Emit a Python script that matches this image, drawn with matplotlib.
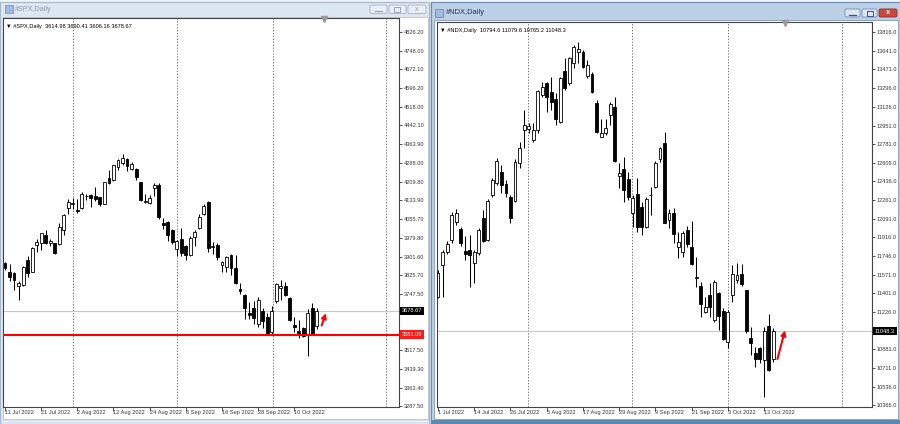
import matplotlib
matplotlib.use("Agg")
import matplotlib.pyplot as plt
from matplotlib.patches import Rectangle, FancyBboxPatch

plt.rcParams['font.family'] = ['Liberation Sans', 'DejaVu Sans']

# ---------------- #SPX,Daily  (11 Jul 2022 .. 17 Oct 2022) ----------------
spx_open = [3876, 3837, 3833, 3783, 3785, 3888, 3840, 3950, 3957, 3990,
            3960, 3957, 3954, 4012, 4101, 4119, 4094, 4101, 4152, 4156,
            4153, 4146, 4119, 4224, 4217, 4272, 4286, 4302, 4261, 4261,
            4208, 4125, 4121, 4183, 4197, 4039, 4046, 4012, 3933, 3975,
            3946, 3909, 3984, 4018, 4077, 4125, 3940, 3948, 3868, 3861,
            3908, 3856, 3770, 3744, 3670, 3689, 3625, 3680, 3652, 3590,
            3718, 3774, 3783, 3730, 3622, 3598, 3608, 3580, 3690, 3614.98]
spx_high = [3881, 3873, 3840, 3800, 3864, 3903, 3940, 3974, 4000, 4012,
            3975, 3960, 4040, 4079, 4140, 4145, 4140, 4168, 4161, 4160,
            4187, 4148, 4211, 4258, 4281, 4302, 4325, 4306, 4293, 4266,
            4210, 4160, 4157, 4203, 4203, 4063, 4050, 4016, 3970, 4018,
            3950, 3988, 4011, 4077, 4119, 4130, 3962, 3959, 3885, 3905,
            3912, 3907, 3792, 3750, 3716, 3718, 3737, 3690, 3671, 3698,
            3795, 3807, 3798, 3735, 3652, 3641, 3612, 3685, 3712, 3690.41]
spx_low = [3847, 3802, 3765, 3722, 3780, 3818, 3838, 3922, 3928, 3955,
           3944, 3911, 3950, 3993, 4079, 4096, 4080, 4100, 4135, 4107,
           4129, 4112, 4117, 4201, 4215, 4257, 4278, 4253, 4258, 4219,
           4130, 4124, 4117, 4150, 4058, 4017, 3965, 3954, 3904, 3906,
           3887, 3906, 3945, 4015, 4075, 3922, 3912, 3888, 3837, 3840,
           3828, 3789, 3750, 3647, 3645, 3623, 3611, 3610, 3584, 3585,
           3712, 3723, 3739, 3636, 3590, 3568, 3573, 3492, 3580, 3606.16]
spx_close = [3856, 3820, 3806, 3793, 3861, 3833, 3936, 3962, 3998, 3960,
             3967, 3918, 4024, 4073, 4128, 4121, 4090, 4160, 4151, 4142,
             4140, 4119, 4208, 4204, 4279, 4300, 4306, 4275, 4283, 4231,
             4135, 4131, 4142, 4197, 4064, 4032, 3991, 3964, 3966, 3916,
             3909, 3977, 4005, 4066, 4110, 3936, 3945, 3902, 3881, 3900,
             3855, 3792, 3762, 3692, 3660, 3648, 3722, 3638, 3586, 3678,
             3791, 3783, 3744, 3640, 3612, 3589, 3577, 3670, 3583, 3678.67]
spx_date_pos = [0, 8, 16, 24, 32, 40, 48, 56, 64]
spx_date_lbl = ["11 Jul 2022", "21 Jul 2022", "2 Aug 2022", "12 Aug 2022", "24 Aug 2022",
                "6 Sep 2022", "16 Sep 2022", "28 Sep 2022", "10 Oct 2022"]
spx_ticks = [4826.20, 4748.00, 4672.10, 4596.20, 4518.00, 4442.10, 4363.90, 4288.00,
             4209.80, 4133.90, 4055.70, 3979.80, 3901.60, 3825.70, 3747.50, 3593.40,
             3517.50, 3439.30, 3363.40, 3287.50]
spx_last = 3678.67
spx_level = 3581.09
spx_header = "#SPX,Daily  3614.98 3690.41 3606.16 3678.67"

# ---------------- #NDX,Daily  (1 Jul 2022 .. 17 Oct 2022) ----------------
ndx_open = [11368, 11661, 11784, 11892, 12062, 11991, 11793, 11800, 11676, 11769,
            12099, 11892, 12308, 12416, 12524, 12407, 12293, 12256, 12607, 12910,
            12916, 12817, 12910, 13233, 13347, 13264, 13193, 12987, 13458, 13341,
            13532, 13634, 13634, 13409, 13424, 13162, 12848, 12879, 13048, 13125,
            12487, 12546, 12453, 12145, 12315, 12194, 12016, 12305, 12385, 12638,
            12792, 12077, 12139, 11824, 11784, 11985, 11831, 11540, 11470, 11223,
            11384, 11152, 11405, 11239, 10952, 11384, 11522, 11578, 11430, 10983,
            10844, 10890, 10782, 11100, 10794.6]
ndx_high = [11615, 11800, 11880, 12154, 12180, 12010, 11930, 11938, 11800, 12000,
            12170, 12270, 12470, 12650, 12590, 12450, 12310, 12640, 12800, 13094,
            12975, 12970, 13280, 13356, 13356, 13403, 13248, 13403, 13572, 13588,
            13696, 13727, 13650, 13557, 13449, 13187, 13008, 13008, 13172, 13218,
            12607, 12657, 12524, 12308, 12463, 12247, 12293, 12385, 12622, 12755,
            12894, 12176, 12185, 11969, 11975, 12022, 12071, 11738, 11507, 11368,
            11491, 11522, 11414, 11260, 11245, 11661, 11676, 11670, 11430, 11090,
            10906, 10906, 11090, 11205, 11079.6]
ndx_low = [11353, 11368, 11760, 11860, 12030, 11840, 11707, 11460, 11491, 11750,
           11870, 11880, 12290, 12400, 12330, 12290, 12050, 12240, 12560, 12740,
           12880, 12800, 12880, 13218, 13080, 13094, 12956, 12971, 13279, 13326,
           13480, 13526, 13480, 13387, 13249, 12879, 12848, 12863, 12956, 12617,
           12370, 12247, 12262, 12016, 11969, 11939, 12000, 12123, 12370, 12617,
           12046, 12006, 11867, 11723, 11738, 11830, 11661, 11460, 11177, 11214,
           11183, 11137, 11060, 10968, 10890, 11322, 11491, 11470, 11029, 10829,
           10721, 10752, 10443, 10684, 10765.2]
ndx_close = [11584, 11784, 11855, 12123, 12145, 11861, 11763, 11753, 11784, 11985,
             11886, 12253, 12447, 12623, 12401, 12324, 12093, 12617, 12740, 12956,
             12946, 12910, 13270, 13310, 13218, 13172, 13008, 13387, 13295, 13572,
             13680, 13656, 13489, 13511, 13264, 12894, 12885, 12925, 13150, 12626,
             12509, 12355, 12293, 12284, 12016, 12016, 12268, 12310, 12607, 12740,
             12053, 12139, 11945, 11877, 11960, 11852, 11667, 11548, 11300, 11269,
             11269, 11507, 11189, 10974, 11229, 11578, 11568, 11482, 11050, 10936,
             10792, 10792, 11050, 10692, 11048.3]
ndx_date_pos = [0, 8, 16, 24, 32, 40, 48, 56, 64, 72]
ndx_date_lbl = ["1 Jul 2022", "14 Jul 2022", "26 Jul 2022", "5 Aug 2022", "17 Aug 2022",
                "29 Aug 2022", "9 Sep 2022", "21 Sep 2022", "3 Oct 2022", "13 Oct 2022"]
ndx_ticks = [13816.0, 13641.0, 13471.0, 13296.0, 13126.0, 12951.0, 12781.0, 12606.0,
             12436.0, 12261.0, 12091.0, 11916.0, 11746.0, 11571.0, 11401.0, 11226.0,
             10881.0, 10711.0, 10536.0, 10366.0]
ndx_last = 11048.3
ndx_header = "#NDX,Daily  10794.6 11079.6 10765.2 11048.3"

W, H = 900, 424
FS = 4.1
fig = plt.figure(figsize=(9, 4.24), dpi=100)


def px_axes(x0, y0, x1, y1, **kw):
    return fig.add_axes([x0 / W, 1 - y1 / H, (x1 - x0) / W, (y1 - y0) / H], **kw)


# window chrome drawn in pixel space (y down)
bg = px_axes(0, 0, W, H)
bg.set_xlim(0, W)
bg.set_ylim(H, 0)
bg.axis('off')
bg.add_patch(Rectangle((0, 0), W, H, fc='#cfdbe9', ec='none'))
bg.add_patch(Rectangle((0, 0), W, 3, fc='#eef1f5', ec='none'))
# left (inactive) window
bg.add_patch(Rectangle((0, 2), 429, 422, fc='#dde7f2', ec='#a8b8cc', lw=0.8))
bg.add_patch(Rectangle((3, 17), 425, 402, fc='white', ec='#b5c3d3', lw=0.6))
bg.add_patch(Rectangle((5, 5), 8, 8, fc='#9fbbe0', ec='#6c8cb8', lw=0.5))
bg.text(15, 9.5, "#SPX,Daily", fontsize=5.2, color='#8d9aab', va='center', ha='left')
for bx, bw in [(370, 17), (389, 17), (408, 18)]:
    bg.add_patch(FancyBboxPatch((bx, 5), bw, 8.5, boxstyle='round,pad=0,rounding_size=1.5',
                                fc='#e9eff6', ec='#a3b2c4', lw=0.6))
bg.plot([375, 382], [11, 11], color='#8e9bab', lw=0.8)
bg.add_patch(Rectangle((394, 7), 6, 4.5, fc='none', ec='#8e9bab', lw=0.6))
bg.text(417, 9.5, "x", fontsize=5, color='#8e9bab', ha='center', va='center')
# right (active) window
bg.add_patch(Rectangle((431, 2), 469, 422, fc='#bccfe6', ec='#6f8db1', lw=0.8))
bg.add_patch(Rectangle((434, 20), 464, 399, fc='white', ec='#7f9abb', lw=0.6))
bg.add_patch(Rectangle((435, 9), 8, 8, fc='#9fbbe0', ec='#5d7fae', lw=0.5))
bg.text(446, 13, "#NDX,Daily", fontsize=5.4, color='#1f3553', va='center', ha='left')
for bx, bw, fc, ec in [(845, 15, '#dbe6f2', '#6f8fb5'), (862, 15, '#dbe6f2', '#6f8fb5'),
                       (879, 18, '#c94a3c', '#8c2d24')]:
    bg.add_patch(FancyBboxPatch((bx, 9), bw, 8, boxstyle='round,pad=0,rounding_size=1.5',
                                fc=fc, ec=ec, lw=0.6))
bg.plot([849, 856], [14.5, 14.5], color='#3b5678', lw=0.9)
bg.add_patch(Rectangle((866.5, 11), 6, 4.5, fc='none', ec='#3b5678', lw=0.7))
bg.text(888, 13, "x", fontsize=5.5, color='white', ha='center', va='center', fontweight='bold')
bg.add_patch(Rectangle((431, 420), 469, 4, fc='#5b87b3', ec='none'))


def draw_chart(ax, o, h, l, c, xlim, ylim, date_pos, date_lbl, ticks, vgrid):
    x = list(range(len(o)))
    ax.set_facecolor('white')
    ax.vlines(x, l, h, color='black', lw=0.75, zorder=3)
    bottoms = [min(a, b) for a, b in zip(o, c)]
    heights = [max(abs(b - a), 0.5) for a, b in zip(o, c)]
    colors = ['white' if b >= a else 'black' for a, b in zip(o, c)]
    ax.bar(x, heights, bottom=bottoms, width=0.64, color=colors,
           edgecolor='black', lw=0.6, zorder=4)
    for gx in vgrid:
        ax.axvline(gx, color='#555555', lw=0.6, ls=(0, (1.5, 2)), zorder=1)
    ax.set_xlim(*xlim)
    ax.set_ylim(*ylim)
    for s in ax.spines.values():
        s.set_color('#444444')
        s.set_linewidth(0.8)
    ax.yaxis.tick_right()
    ax.set_yticks(ticks)
    ax.set_yticklabels(["%.2f" % t if t < 10000 else "%.1f" % t for t in ticks])
    ax.set_xticks(date_pos)
    ax.set_xticklabels(date_lbl, ha='left')
    ax.tick_params(axis='y', length=2, width=0.6, pad=1.5, labelsize=FS, colors='#333333')
    ax.tick_params(axis='x', length=3, width=0.6, pad=-1, labelsize=FS, colors='#333333')


def price_box(ax, y, text, fc):
    ax.text(1.007, y, text, transform=ax.get_yaxis_transform(),
            fontsize=FS, color='white', ha='left', va='center', clip_on=False, zorder=10,
            bbox=dict(boxstyle='square,pad=0.3', fc=fc, ec='none'))


axl = px_axes(3, 18, 399, 407)
draw_chart(axl, spx_open, spx_high, spx_low, spx_close,
           (-0.44, 87.17), (3283.4, 4883.8), spx_date_pos, spx_date_lbl, spx_ticks,
           [15.0, 38.05, 59.3, 84.3])
axl.axhline(spx_last, color='#c8c8c8', lw=0.8, zorder=2)
axl.axhline(spx_level, color='#ff0000', lw=1.5, zorder=5)
price_box(axl, spx_last, "%.2f" % spx_last, 'black')
price_box(axl, spx_level, "%.2f" % spx_level, '#ff1a1a')
axl.annotate('', xy=(71.2, 3680), xytext=(69.85, 3608),
             arrowprops=dict(arrowstyle='-|>', color='#ff0000', lw=1.5, mutation_scale=7),
             zorder=8)
axl.text(0.008, 0.985, "\u25bc " + spx_header, transform=axl.transAxes, fontsize=FS,
         color='black', ha='left', va='top')
axl.plot([70.5], [4880], marker='v', ms=4, color='#9a9a9a', clip_on=False, zorder=9)

axr = px_axes(437, 22, 872, 407)
draw_chart(axr, ndx_open, ndx_high, ndx_low, ndx_close,
           (-0.22, 95.8), (10347.6, 13908.5), ndx_date_pos, ndx_date_lbl, ndx_ticks,
           [19.9, 42.8, 64.0, 89.2])
axr.axhline(ndx_last, color='#c8c8c8', lw=0.8, zorder=2)
price_box(axr, ndx_last, "%.1f" % ndx_last, 'black')
axr.annotate('', xy=(76.75, 11081), xytext=(74.77, 10767),
             arrowprops=dict(arrowstyle='-|>', color='#ff0000', lw=1.5, mutation_scale=7),
             zorder=8)
axr.text(0.007, 0.985, "\u25bc " + ndx_header, transform=axr.transAxes, fontsize=FS,
         color='black', ha='left', va='top')
axr.plot([76.5], [13900], marker='v', ms=4, color='#9a9a9a', clip_on=False, zorder=9)

plt.savefig("out.png", dpi=100)
